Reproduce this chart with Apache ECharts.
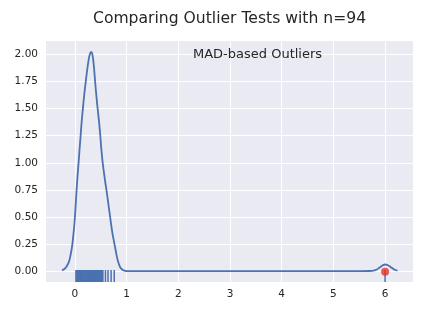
<!DOCTYPE html>
<html><head><meta charset="utf-8">
<script src="https://cdn.jsdelivr.net/npm/echarts@6/dist/echarts.min.js"></script>
<style>html,body{margin:0;padding:0;background:#fff}#c{width:432px;height:312px}</style>
</head><body><div id="c"></div>
<script>
// KDE curve points [x, density]
const kdeX = [-0.25,-0.22,-0.19,-0.16,-0.13,-0.11,-0.09,-0.07,-0.05,-0.03,-0.01,0.01,0.03,0.05,0.07,0.09,0.11,0.13,0.15,0.17,0.19,0.21,0.23,0.25,0.27,0.29,0.31,0.33,0.35,0.37,0.39,0.41,0.43,0.45,0.47,0.49,0.51,0.53,0.55,0.57,0.59,0.61,0.63,0.65,0.67,0.69,0.71,0.73,0.75,0.77,0.79,0.81,0.83,0.85,0.87,0.90,0.93,0.97,1.0,1.5,2.0,2.5,3.0,3.5,4.0,4.5,5.0,5.5,5.7,5.78,5.84,5.88,5.92,5.96,6.0,6.04,6.08,6.12,6.16,6.2,6.24];
const kdeY = [0.012,0.02,0.03,0.05,0.075,0.10,0.14,0.19,0.25,0.34,0.44,0.58,0.74,0.88,1.0,1.13,1.25,1.38,1.48,1.58,1.67,1.75,1.83,1.90,1.96,2.0,2.02,2.01,1.96,1.87,1.75,1.64,1.54,1.45,1.36,1.25,1.13,1.03,0.95,0.88,0.81,0.75,0.68,0.61,0.54,0.47,0.40,0.34,0.29,0.24,0.19,0.14,0.10,0.07,0.045,0.025,0.014,0.008,0.006,0.005,0.005,0.005,0.005,0.005,0.005,0.005,0.005,0.005,0.006,0.01,0.02,0.033,0.047,0.06,0.066,0.063,0.052,0.038,0.025,0.015,0.009];
// rug (sample values)
const rugX = [0.02,0.03,0.04,0.05,0.06,0.07,0.08,0.09,0.10,0.11,0.12,0.13,0.14,0.15,0.15,0.16,0.16,0.17,0.18,0.18,0.19,0.19,0.20,0.20,0.21,0.21,0.22,0.22,0.23,0.23,0.24,0.24,0.25,0.25,0.26,0.26,0.27,0.27,0.27,0.28,0.28,0.29,0.29,0.29,0.30,0.30,0.30,0.31,0.31,0.31,0.32,0.32,0.32,0.33,0.33,0.33,0.33,0.34,0.34,0.34,0.35,0.35,0.35,0.36,0.36,0.36,0.37,0.37,0.37,0.38,0.38,0.38,0.39,0.39,0.40,0.40,0.41,0.41,0.44,0.45,0.46,0.47,0.48,0.49,0.50,0.51,0.52,0.53,0.54,0.59,0.64,0.70,0.76,6.0];
// outliers
const outX = [6.0];
const outY = [0.0];
// ticks
const xTicks = [0,1,2,3,4,5,6];
const yTicks = [0,0.25,0.5,0.75,1.0,1.25,1.5,1.75,2.0];

const X_MIN = -0.56, X_MAX = 6.54, Y_MIN = -0.095, Y_MAX = 2.12;
const chart = echarts.init(document.getElementById('c'), null, {renderer:'canvas'});
const font = 'DejaVu Sans';
chart.setOption({
  animation:false,
  backgroundColor:'#ffffff',
  title:{text:'Comparing Outlier Tests with n=94',left:88,top:6,
    textStyle:{fontFamily:font,fontSize:15.6,fontWeight:'normal',color:'#262626'}},
  graphic:[{type:'text',z:100,left:193,top:48,style:{text:'MAD-based Outliers',font:'13px "DejaVu Sans"',fill:'#262626'}}],
  grid:{left:46,right:19,top:41,bottom:30,show:true,backgroundColor:'#eaeaf2',borderWidth:0},
  xAxis:{type:'value',min:X_MIN,max:X_MAX,
    axisLine:{show:false},
    axisTick:{show:false,customValues:xTicks},
    axisLabel:{customValues:xTicks,margin:7,fontFamily:font,fontSize:10.5,color:'#262626',formatter:v=>String(v)},
    splitLine:{show:true,lineStyle:{color:'#ffffff',width:1}}},
  yAxis:{type:'value',min:Y_MIN,max:Y_MAX,
    axisLine:{show:false},
    axisTick:{show:false,customValues:yTicks},
    axisLabel:{customValues:yTicks,margin:8,fontFamily:font,fontSize:10.5,color:'#262626',formatter:v=>v.toFixed(2)},
    splitLine:{show:true,lineStyle:{color:'#ffffff',width:1}}},
  series:[
    {type:'custom',z:2,data:rugX.map(v=>[v]),encode:{x:0},
      renderItem:function(params,api){
        const p=api.coord([api.value(0),Y_MIN]);
        return {type:'line',shape:{x1:p[0],y1:p[1],x2:p[0],y2:p[1]-12},style:{stroke:'#4c72b0',lineWidth:1.5}};
      }},
    {type:'line',z:3,data:kdeX.map((x,i)=>[x,kdeY[i]]),showSymbol:false,smooth:0.25,
      lineStyle:{color:'#4c72b0',width:1.8}},
    {type:'scatter',z:4,data:outX.map((x,i)=>[x,outY[i]]),symbolSize:8,itemStyle:{color:'#e8302a'}}
  ]
});
</script></body></html>
